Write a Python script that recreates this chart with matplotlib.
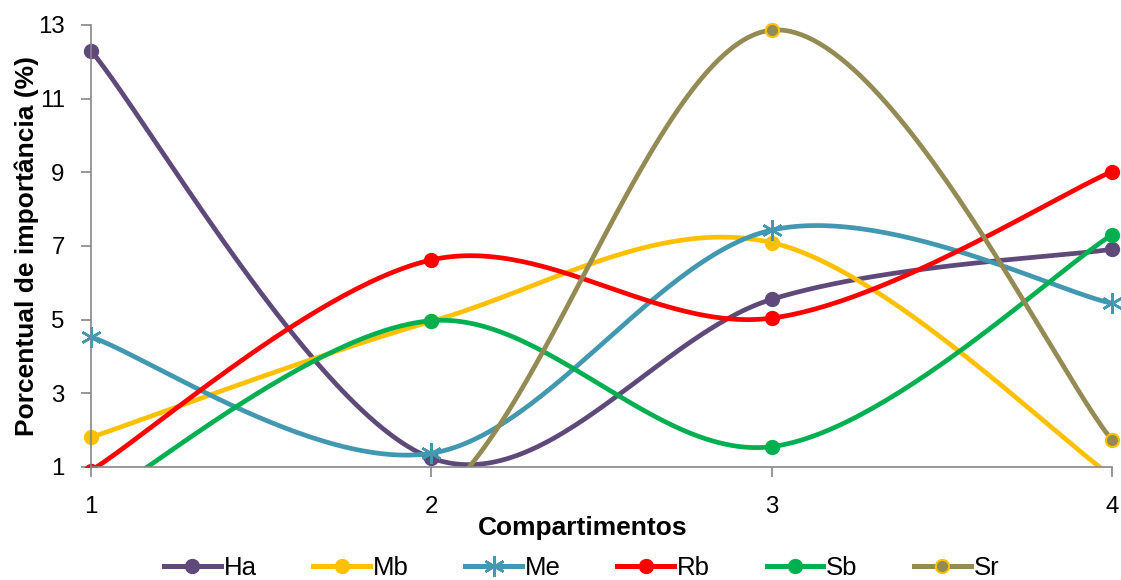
import numpy as np
import matplotlib.pyplot as plt
from matplotlib.transforms import Bbox, TransformedBbox

plt.rcParams['font.family'] = ['Liberation Sans', 'DejaVu Sans']

#%% data
compartimentos = [1, 2, 3, 4]
ha = [12.3, 1.24, 5.55, 6.91]
mb = [1.8, 4.95, 7.09, 0.75]
me = [4.53, 1.37, 7.43, 5.44]
rb = [0.9, 6.62, 5.04, 9.02]
sb = [0.0, 4.97, 1.55, 7.30]
sr = [0.0, 0.0, 12.86, 1.73]


def smooth(x, y, n=60):
    # excel-like smoothed line: catmull-rom turned into bezier segments
    pts = np.column_stack([x, y]).astype(float)
    ext = np.vstack([pts[0], pts, pts[-1]])
    out = []
    t = np.linspace(0, 1, n)[:, None]
    for i in range(len(pts) - 1):
        p0, p1, p2, p3 = ext[i], ext[i + 1], ext[i + 2], ext[i + 3]
        c1 = p1 + (p2 - p0) / 6
        c2 = p2 - (p3 - p1) / 6
        seg = (1 - t)**3 * p1 + 3 * (1 - t)**2 * t * c1 + 3 * (1 - t) * t**2 * c2 + t**3 * p2
        out.append(seg if i == 0 else seg[1:])
    return np.vstack(out)


series = [
    ('Ha', ha, '#5F497A', 'o', '#5F497A'),
    ('Mb', mb, '#FFC000', 'o', '#FFC000'),
    ('Me', me, '#4198B0', (6, 2, 0), '#4198B0'),
    ('Rb', rb, '#FF0000', 'o', '#FF0000'),
    ('Sb', sb, '#00B050', 'o', '#00B050'),
    ('Sr', sr, '#948A54', 'o', '#FFC000'),
]

fig = plt.figure(figsize=(11.21, 5.8), dpi=100)
ax = fig.add_axes([0.0812, 0.195, 0.9108, 0.762])
ax.set_xlim(1, 4)
ax.set_ylim(1, 13)

# clip only at the bottom/top, markers on the side edges stay whole
clip = TransformedBbox(Bbox([[-0.03, 0], [1.03, 1.05]]), ax.transAxes)

handles = []
for name, vals, col, mk, edge in series:
    xy = smooth(compartimentos, vals)
    ln, = ax.plot(xy[:, 0], xy[:, 1], color=col, lw=3.4, solid_capstyle='round')
    ln.set_clip_box(clip)
    if mk == 'o':
        pt, = ax.plot(compartimentos, vals, ls='none', marker='o', ms=9.5,
                      mfc=col, mec=edge, mew=1.5)
    else:
        pt, = ax.plot(compartimentos, vals, ls='none', marker=mk, ms=15,
                      mfc=col, mec=col, mew=1.8)
    pt.set_clip_box(clip)
    h, = ax.plot([], [], color=col, lw=3.6, marker=mk,
                 ms=9.5 if mk == 'o' else 15, mfc=col, mec=edge,
                 mew=1.5 if mk == 'o' else 1.8, label=name)
    handles.append(h)

for s in ['top', 'right']:
    ax.spines[s].set_visible(False)
for s in ['left', 'bottom']:
    ax.spines[s].set_color('#868686')
    ax.spines[s].set_linewidth(1.2)

ax.set_xticks(compartimentos)
ax.set_yticks(np.arange(1, 14, 2))
ax.tick_params(colors='#868686', length=7, width=1.2, labelsize=17.3,
               labelcolor='black')
ax.tick_params(axis='x', pad=14)
ax.tick_params(axis='y', pad=12)

ax.set_xlabel('Compartimentos', fontsize=19, fontweight='bold')
ax.xaxis.set_label_coords(0.482, -0.11)
ax.set_ylabel('Porcentual de importância (%)', fontsize=19, fontweight='bold')
ax.yaxis.set_label_coords(-0.051, 0.5)

fig.legend(handles=handles, loc='center', bbox_to_anchor=(0.519, 0.021),
           ncol=6, frameon=False, fontsize=18.5, handlelength=2.2,
           handletextpad=0.12, columnspacing=2.2)

plt.savefig('out.png', dpi=100)
